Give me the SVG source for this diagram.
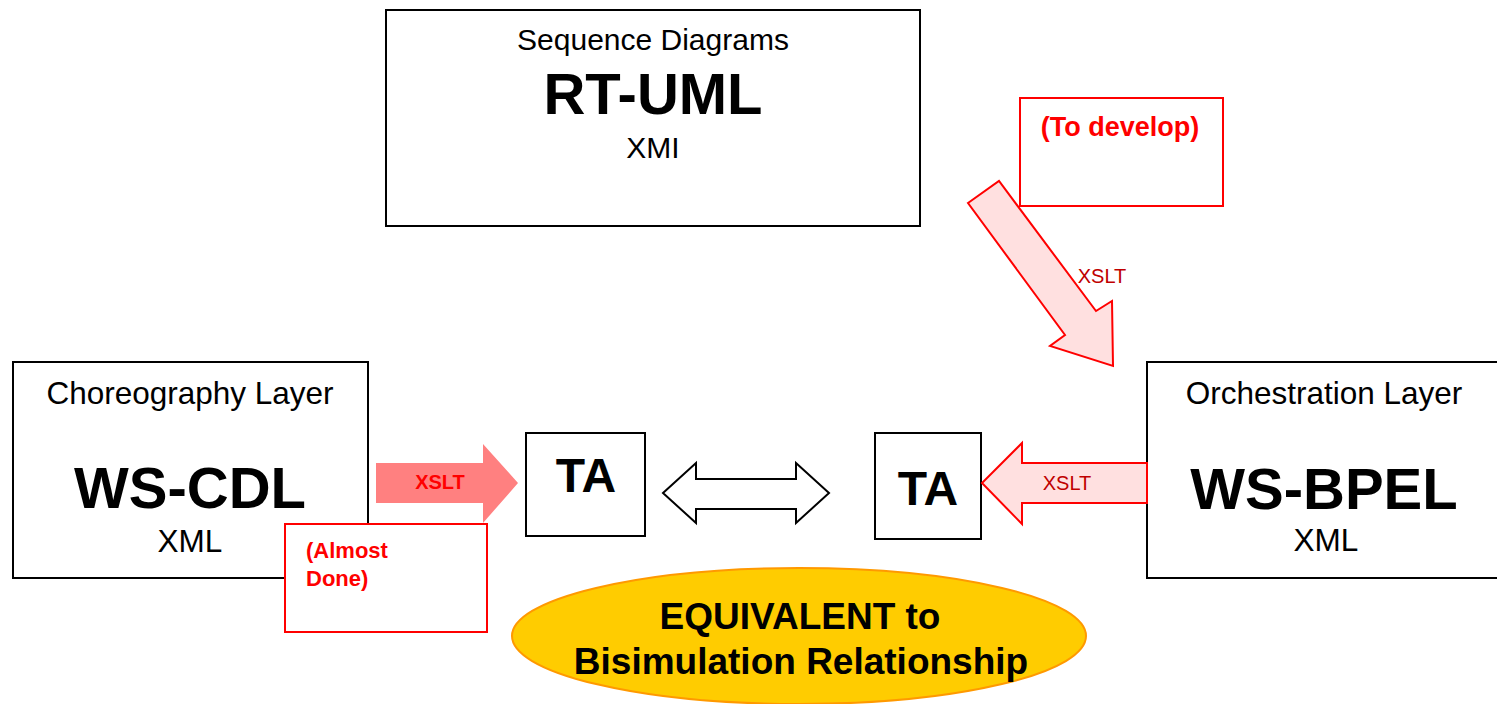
<svg xmlns="http://www.w3.org/2000/svg" width="1497" height="704" viewBox="0 0 1497 704">
<style>
.box{fill:#fff;stroke:#000;stroke-width:2}
.rbox{fill:#fff;stroke:#ff0000;stroke-width:2}
.t{font-family:"Liberation Sans",Arial,sans-serif;text-anchor:middle;fill:#000}
.reg{font-size:30px}
.lay{font-size:31.5px}
.big{font-size:58px;font-weight:bold}
.ta{font-size:48px;font-weight:bold}
.red{font-family:"Liberation Sans",Arial,sans-serif;fill:#ff0000;font-weight:bold}
.xs{font-family:"Liberation Sans",Arial,sans-serif;font-size:20px;fill:#c00000;text-anchor:middle}
</style>
<rect width="1497" height="704" fill="#fff"/>
<g id="rtuml">
<rect class="box" x="386" y="10" width="534" height="216"/>
<text class="t reg" x="653" y="50">Sequence Diagrams</text>
<text class="t big" x="653" y="114">RT-UML</text>
<text class="t reg" x="653" y="158">XMI</text>
</g>
<g id="todevelop">
<rect class="rbox" x="1020" y="98" width="203" height="108"/>
<text class="red" x="1120" y="136" font-size="27" text-anchor="middle">(To develop)</text>
</g>
<g id="choreo">
<rect class="box" x="13" y="362" width="355" height="216"/>
<text class="t lay" x="190" y="404">Choreography Layer</text>
<text class="t big" x="190" y="508">WS-CDL</text>
<text class="t lay" x="190" y="552">XML</text>
</g>
<g id="orch">
<rect class="box" x="1147" y="362" width="360" height="216"/>
<text class="t lay" x="1324" y="404">Orchestration Layer</text>
<text class="t big" x="1324" y="509">WS-BPEL</text>
<text class="t lay" x="1326" y="551">XML</text>
</g>
<g id="ta1">
<rect class="box" x="526" y="433" width="119" height="103"/>
<text class="t ta" x="586" y="492">TA</text>
</g>
<g id="ta2">
<rect class="box" x="875" y="433" width="106" height="106"/>
<text class="t ta" x="928" y="505">TA</text>
</g>
<g id="almost">
<rect class="rbox" x="285" y="524" width="202" height="108"/>
<text class="red" x="306" y="558" font-size="22">(Almost</text>
<text class="red" x="306" y="586" font-size="22">Done)</text>
</g>
<g id="equiv">
<ellipse cx="799" cy="636" rx="287" ry="68" fill="#ffcc00" stroke="#ff9900" stroke-width="2"/>
<text class="t" x="800" y="629" font-size="37" font-weight="bold">EQUIVALENT to</text>
<text class="t" x="801" y="674" font-size="37" font-weight="bold">Bisimulation Relationship</text>
</g>
<g id="connectors">
<path d="M968,203 L999,181 L1096,311 L1112,301 L1113,366 L1050,346 L1065,335 Z" fill="#ffe0e0" stroke="#ff0000" stroke-width="2"/>
<text class="xs" x="1102" y="283">XSLT</text>
<path d="M376,463 L483,463 L483,444 L518,483 L483,523 L483,503 L376,503 Z" fill="#ff8080"/>
<text class="red" x="440" y="489" font-size="20" text-anchor="middle">XSLT</text>
<path d="M1147,463 L1022,463 L1022,443 L982,483 L1022,524 L1022,503 L1147,503 Z" fill="#ffe0e0" stroke="#ff0000" stroke-width="2"/>
<text class="xs" x="1067" y="490" font-size="21">XSLT</text>
<path d="M663,493 L696,463 L696,479 L796,479 L796,463 L829,493 L796,523 L796,509 L696,509 L696,523 Z" fill="#fff" stroke="#000" stroke-width="2"/>
</g>
</svg>
